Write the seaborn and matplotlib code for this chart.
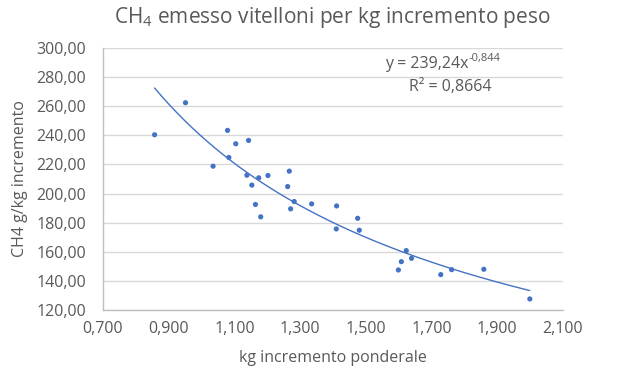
import numpy as np
import pandas as pd
import matplotlib
matplotlib.use("Agg")
import matplotlib.pyplot as plt
import seaborn as sns
from matplotlib.ticker import FuncFormatter

# Data
gain_kg = [0.857, 0.951, 1.035, 1.079, 1.083, 1.104, 1.143, 1.138, 1.174, 1.202,
           1.153, 1.164, 1.180, 1.267, 1.262, 1.282, 1.271, 1.335, 1.411, 1.410,
           1.475, 1.480, 1.623, 1.608, 1.639, 1.599, 1.728, 1.761, 1.859, 1.999]
ch4_per_kg = [240.4, 262.4, 218.8, 243.4, 224.8, 234.2, 236.5, 212.6, 210.8, 212.4,
              205.8, 192.5, 184.0, 215.4, 204.8, 194.5, 189.5, 192.9, 191.5, 175.7,
              183.0, 174.8, 160.8, 153.2, 155.5, 147.5, 144.3, 147.7, 148.0, 127.6]
coef_a = 239.24
coef_b = -0.844
r2 = 0.8664

x_ticks = [0.7, 0.9, 1.1, 1.3, 1.5, 1.7, 1.9, 2.1]
y_ticks = [120, 140, 160, 180, 200, 220, 240, 260, 280, 300]

sns.set_theme(style="white")
plt.rcParams['font.family'] = ['Open Sans', 'DejaVu Sans']

TXT = "#595959"
BLUE = "#4472C4"

df = pd.DataFrame({"x": gain_kg, "y": ch4_per_kg})
xs = np.linspace(min(gain_kg), max(gain_kg), 200)
trend = pd.DataFrame({"x": xs, "y": coef_a * xs ** coef_b})

fig = plt.figure(figsize=(6.23, 3.75), dpi=100)
ax = fig.add_axes([103 / 623, 1 - 310 / 375, 460 / 623, 262 / 375])

sns.lineplot(data=trend, x="x", y="y", ax=ax, color=BLUE, linewidth=1.0, zorder=2)
sns.scatterplot(data=df, x="x", y="y", ax=ax, color=BLUE, s=14, edgecolor="none", zorder=3)

ax.set_xlim(0.7, 2.1)
ax.set_ylim(120, 300)
ax.set_xticks(x_ticks)
ax.set_yticks(y_ticks)
ax.xaxis.set_major_formatter(FuncFormatter(lambda v, p: f"{v:.3f}".replace(".", ",")))
ax.yaxis.set_major_formatter(FuncFormatter(lambda v, p: f"{v:.2f}".replace(".", ",")))
ax.tick_params(axis="y", labelsize=11.5, colors=TXT, length=0, pad=12)
ax.tick_params(axis="x", labelsize=11.5, colors=TXT, length=0, pad=8)
ax.grid(axis="y", color="#D9D9D9", linewidth=1.0)
ax.set_axisbelow(True)
for s in ["top", "right"]:
    ax.spines[s].set_visible(False)
for s in ["left", "bottom"]:
    ax.spines[s].set_color("#BFBFBF")
    ax.spines[s].set_linewidth(1.0)

ax.set_xlabel("kg incremento ponderale", fontsize=11.5, color=TXT, labelpad=9)
ax.set_ylabel("CH4 g/kg incremento", fontsize=11.5, color=TXT, labelpad=6)

fig.text(332 / 623, 1 - 18 / 375, r"CH$_\mathregular{4}$ emesso vitelloni per kg incremento peso",
         ha="center", va="center", fontsize=15, color=TXT)

# trendline equation: main part + superscript exponent
fig.canvas.draw()
rend = fig.canvas.get_renderer()
main = fig.text(385 / 623, 1 - 64 / 375, "y = 239,24x", ha="left", va="center",
                fontsize=11.5, color=TXT)
bb = main.get_window_extent(renderer=rend)
fig.text(bb.x1 / fig.bbox.width, 1 - 58 / 375, "-0,844", ha="left", va="center",
         fontsize=8, color=TXT)
fig.text(450 / 623, 1 - 87 / 375, "R² = 0,8664", ha="center", va="center",
         fontsize=11.5, color=TXT)

fig.savefig("out.png", dpi=100)
